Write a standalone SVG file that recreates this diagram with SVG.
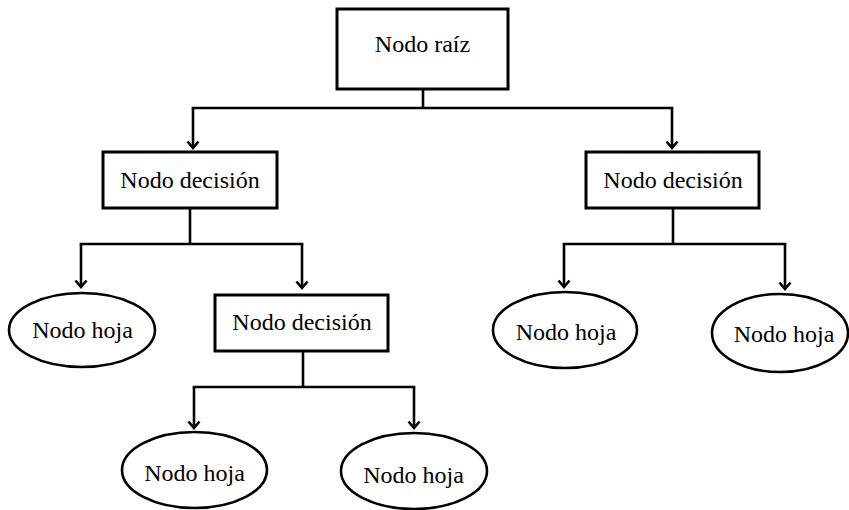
<svg xmlns="http://www.w3.org/2000/svg" width="849" height="510" viewBox="0 0 849 510">
  <style>
    .box { fill: #fff; stroke: #000; stroke-width: 3; }
    .leaf { fill: #fff; stroke: #000; stroke-width: 2.6; }
    .lbl { font-family: "Liberation Serif", "Times New Roman", serif; font-size: 24px; fill: #000; text-anchor: middle; }
    .wire { fill: none; stroke: #000; stroke-width: 2.6; stroke-linecap: square; }
    .arrow { fill: none; stroke: #000; stroke-width: 2.6; marker-end: url(#head); }
  </style>
  <defs>
    <marker id="head" markerUnits="userSpaceOnUse" markerWidth="16" markerHeight="16" viewBox="-8 -8 16 16" refX="0" refY="0" orient="auto" overflow="visible">
      <path d="M-6.5,-5.5 L0,0 L-6.5,5.5" fill="none" stroke="#000" stroke-width="2.6" stroke-linejoin="miter"/>
    </marker>
  </defs>

  <!-- connectors -->
  <g id="connectors">
    <!-- root to first level -->
    <path class="wire" d="M423,89 V108 M193,108 H672"/>
    <path class="arrow" d="M193,108 V148"/>
    <path class="arrow" d="M672,108 V148"/>
    <!-- left decision -->
    <path class="wire" d="M190,208 V244 M81,244 H302"/>
    <path class="arrow" d="M81,244 V287"/>
    <path class="arrow" d="M302,244 V288"/>
    <!-- middle decision -->
    <path class="wire" d="M303,351 V387 M194,387 H414"/>
    <path class="arrow" d="M194,387 V428"/>
    <path class="arrow" d="M414,387 V428"/>
    <!-- right decision -->
    <path class="wire" d="M673,208 V244 M564,244 H785"/>
    <path class="arrow" d="M564,244 V287"/>
    <path class="arrow" d="M785,244 V289"/>
  </g>

  <g id="root">
    <rect class="box" x="337" y="9" width="171" height="80"/>
    <text class="lbl" x="422.5" y="52">Nodo raíz</text>
  </g>

  <g id="decision-left">
    <rect class="box" x="103" y="152" width="174" height="56"/>
    <text class="lbl" x="190" y="188">Nodo decisión</text>
  </g>

  <g id="decision-right">
    <rect class="box" x="586" y="152" width="173" height="56"/>
    <text class="lbl" x="673" y="188">Nodo decisión</text>
  </g>

  <g id="decision-middle">
    <rect class="box" x="215" y="295" width="173" height="56"/>
    <text class="lbl" x="302" y="330">Nodo decisión</text>
  </g>

  <g id="leaf-left">
    <ellipse class="leaf" cx="82" cy="330" rx="73" ry="37"/>
    <text class="lbl" x="82.5" y="338">Nodo hoja</text>
  </g>

  <g id="leaf-right-1">
    <ellipse class="leaf" cx="565" cy="330" rx="72" ry="38"/>
    <text class="lbl" x="566" y="340">Nodo hoja</text>
  </g>

  <g id="leaf-right-2">
    <ellipse class="leaf" cx="780" cy="333" rx="68" ry="39"/>
    <text class="lbl" x="784" y="342">Nodo hoja</text>
  </g>

  <g id="leaf-bottom-1">
    <ellipse class="leaf" cx="194.5" cy="470" rx="72.5" ry="38"/>
    <text class="lbl" x="194.5" y="481">Nodo hoja</text>
  </g>

  <g id="leaf-bottom-2">
    <ellipse class="leaf" cx="414" cy="471" rx="73" ry="38"/>
    <text class="lbl" x="413.5" y="483">Nodo hoja</text>
  </g>
</svg>
